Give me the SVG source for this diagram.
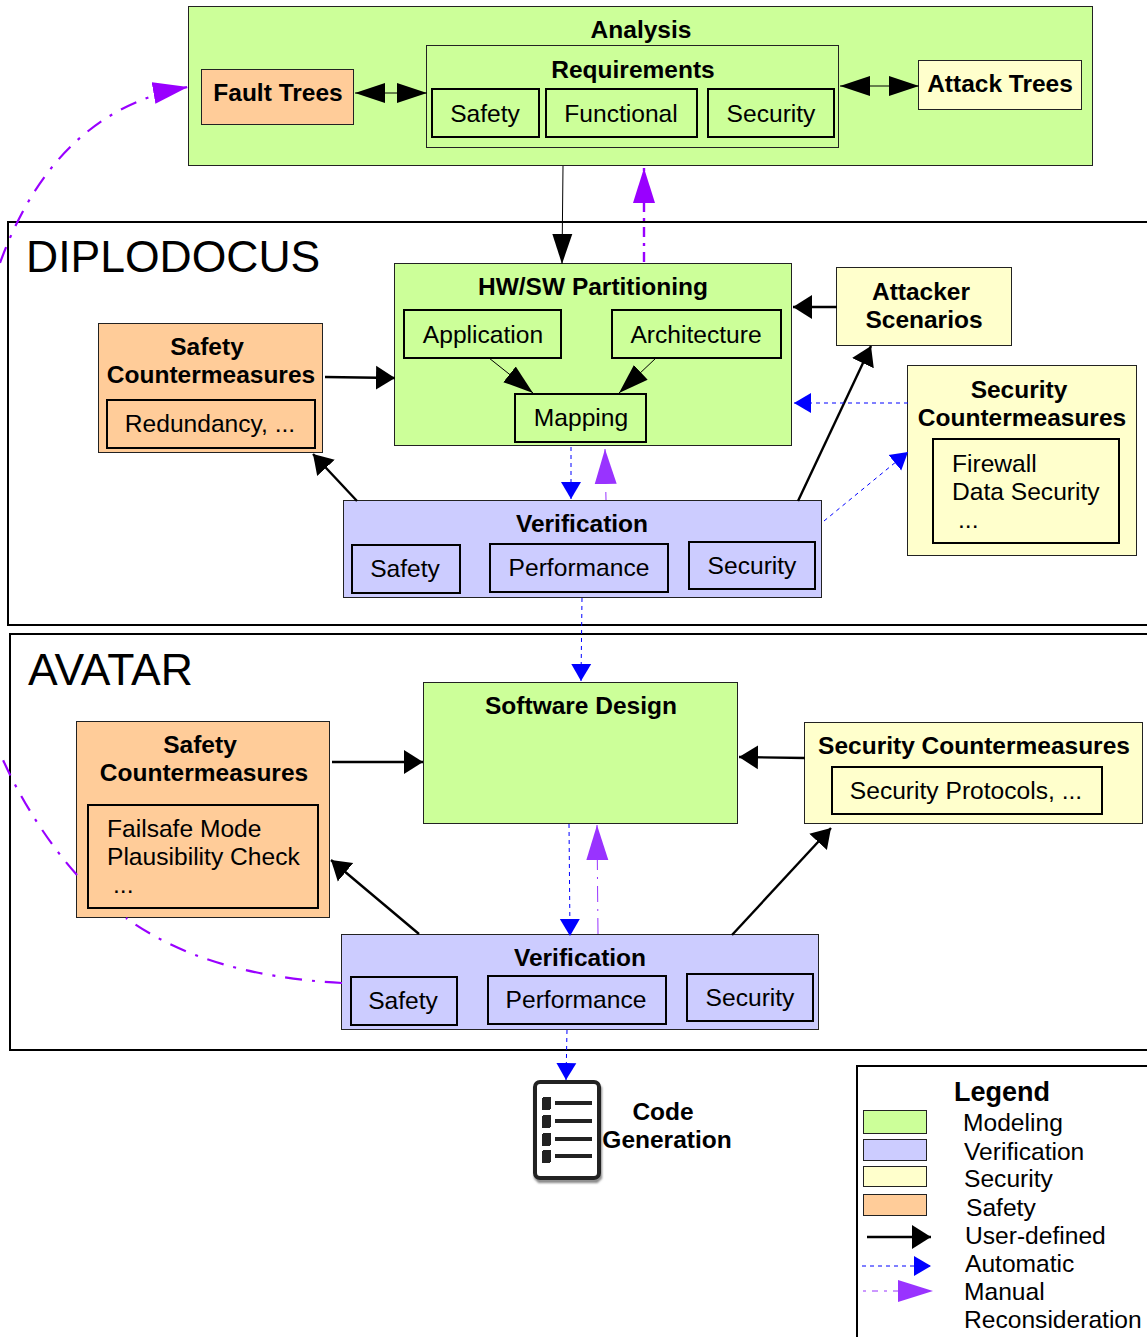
<svg xmlns="http://www.w3.org/2000/svg" width="1147" height="1337" viewBox="0 0 1147 1337">
<style>
text{font-family:"Liberation Sans",Arial,sans-serif;font-size:24.6px;fill:#000}
.b{font-weight:bold;font-size:24.5px}
.m{text-anchor:middle}
.t{font-size:44.5px}
.frame{fill:#fff;stroke:#000;stroke-width:2}
rect{shape-rendering:crispEdges}
.green,.blue,.yellow,.orange,.req{transform:translate(-.5px,-.5px)}
.green{fill:#ccff99;stroke:#222;stroke-width:1}
.blue{fill:#ccccff;stroke:#222;stroke-width:1}
.yellow{fill:#ffffcc;stroke:#222;stroke-width:1}
.orange{fill:#ffcc99;stroke:#222;stroke-width:1}
.req{fill:none;stroke:#222;stroke-width:1}
.in{fill:none;stroke:#000;stroke-width:2}
.c{fill:none;stroke:#000}
.w1{stroke-width:1}
.w2{stroke-width:2.4}
.auto{fill:none;stroke:#0000ff;stroke-width:1;stroke-dasharray:4 4}
.man{fill:none;stroke:#9933ff;stroke-width:1;stroke-dasharray:16 7 2 7}
.cur{fill:none;stroke:#9900ff;stroke-width:2.2;stroke-dasharray:17 10 3 10}
</style>
<defs>
<marker id="k" markerUnits="userSpaceOnUse" markerWidth="30" markerHeight="22" refX="30" refY="11" orient="auto-start-reverse"><path d="M0 1L30 11L0 21Z" fill="#000"/></marker>
<marker id="s" markerUnits="userSpaceOnUse" markerWidth="20" markerHeight="26" refX="19" refY="13" orient="auto"><path d="M0 1L19 13L0 25Z" fill="#000"/></marker>
<marker id="a" markerUnits="userSpaceOnUse" markerWidth="18" markerHeight="22" refX="17" refY="11" orient="auto"><path d="M0 1L17 11L0 21Z" fill="#0000ff"/></marker>
<marker id="p" markerUnits="userSpaceOnUse" markerWidth="36" markerHeight="24" refX="35" refY="12" orient="auto"><path d="M0 1L35 12L0 23Z" fill="#9933ff"/></marker>
<marker id="q" markerUnits="userSpaceOnUse" markerWidth="36" markerHeight="24" refX="35" refY="12" orient="auto"><path d="M0 1L35 12L0 23Z" fill="#9900ff"/></marker>
<filter id="sh" x="-20%" y="-20%" width="140%" height="140%"><feGaussianBlur stdDeviation="1.2"/></filter>
</defs>

<g id="diplodocus"><rect class="frame" x="8" y="222" width="1160" height="403"/><text class="t" x="26" y="272">DIPLODOCUS</text></g>
<g id="avatar"><rect class="frame" x="10" y="634" width="1160" height="416"/><text class="t" x="28" y="685">AVATAR</text></g>

<g id="analysis">
<rect class="green" x="189" y="7" width="904" height="159"/>
<text class="b m" x="641" y="38">Analysis</text>
</g>
<g id="fault-trees"><rect class="orange" x="202" y="70" width="152" height="55"/><text class="b m" x="278" y="101">Fault Trees</text></g>
<g id="requirements">
<rect class="req" x="427" y="46" width="412" height="102"/>
<text class="b m" x="633" y="78">Requirements</text>
<rect class="in" x="432" y="89" width="107" height="48"/><text class="m" x="485" y="122">Safety</text>
<rect class="in" x="546" y="89" width="151" height="48"/><text class="m" x="621" y="122">Functional</text>
<rect class="in" x="708" y="89" width="126" height="48"/><text class="m" x="771" y="122">Security</text>
</g>
<g id="attack-trees"><rect class="yellow" x="919" y="61" width="163" height="49"/><text class="b m" x="1000" y="92">Attack Trees</text></g>

<g id="hwsw">
<rect class="green" x="395" y="264" width="397" height="182"/>
<text class="b m" x="593" y="295">HW/SW Partitioning</text>
<rect class="in" x="404" y="310" width="157" height="48"/><text class="m" x="483" y="343">Application</text>
<rect class="in" x="612" y="310" width="169" height="48"/><text class="m" x="696" y="343">Architecture</text>
<rect class="in" x="515" y="394" width="131" height="48"/><text class="m" x="581" y="426">Mapping</text>
</g>
<g id="attacker"><rect class="yellow" x="837" y="268" width="175" height="78"/><text class="b m" x="921" y="300">Attacker</text><text class="b m" x="924" y="328">Scenarios</text></g>
<g id="sec-cm-1">
<rect class="yellow" x="908" y="366" width="229" height="190"/>
<text class="b m" x="1019" y="398">Security</text><text class="b m" x="1022" y="426">Countermeasures</text>
<rect class="in" x="933" y="439" width="186" height="104"/>
<text x="952" y="472">Firewall</text><text x="952" y="500">Data Security</text><text x="958" y="528">...</text>
</g>
<g id="safety-cm-1">
<rect class="orange" x="99" y="324" width="224" height="129"/>
<text class="b m" x="207" y="355">Safety</text><text class="b m" x="211" y="383">Countermeasures</text>
<rect class="in" x="107" y="400" width="208" height="48"/><text class="m" x="210" y="432">Redundancy, ...</text>
</g>
<g id="verification-1">
<rect class="blue" x="344" y="501" width="478" height="97"/>
<text class="b m" x="582" y="532">Verification</text>
<rect class="in" x="352" y="545" width="108" height="48"/><text class="m" x="405" y="577">Safety</text>
<rect class="in" x="490" y="544" width="178" height="48"/><text class="m" x="579" y="576">Performance</text>
<rect class="in" x="689" y="542" width="126" height="47"/><text class="m" x="752" y="574">Security</text>
</g>

<g id="software-design"><rect class="green" x="424" y="683" width="314" height="141"/><text class="b m" x="581" y="714">Software Design</text></g>
<g id="sec-cm-2">
<rect class="yellow" x="805" y="723" width="338" height="101"/>
<text class="b m" x="974" y="754">Security Countermeasures</text>
<rect class="in" x="832" y="767" width="270" height="47"/><text class="m" x="966" y="799">Security Protocols, ...</text>
</g>
<g id="safety-cm-2">
<rect class="orange" x="77" y="722" width="253" height="196"/>
<text class="b m" x="200" y="753">Safety</text><text class="b m" x="204" y="781">Countermeasures</text>
<rect class="in" x="88" y="805" width="230" height="103"/>
<text x="107" y="837">Failsafe Mode</text><text x="107" y="865">Plausibility Check</text><text x="113" y="893">...</text>
</g>
<g id="verification-2">
<rect class="blue" x="342" y="935" width="477" height="95"/>
<text class="b m" x="580" y="966">Verification</text>
<rect class="in" x="351" y="977" width="106" height="48"/><text class="m" x="403" y="1009">Safety</text>
<rect class="in" x="488" y="976" width="178" height="48"/><text class="m" x="576" y="1008">Performance</text>
<rect class="in" x="687" y="974" width="126" height="47"/><text class="m" x="750" y="1006">Security</text>
</g>

<g id="code-generation">
<rect x="536" y="1085" width="64" height="96" rx="5" fill="none" stroke="#888" stroke-width="4" filter="url(#sh)"/>
<rect x="535" y="1082" width="64" height="96" rx="5" fill="#fff" stroke="#222" stroke-width="4" style="shape-rendering:auto"/>
<g fill="#222">
<rect x="542" y="1097" width="9" height="13" rx="2"/><rect x="555" y="1101" width="37" height="4"/>
<rect x="542" y="1115" width="9" height="13" rx="2"/><rect x="555" y="1119" width="37" height="4"/>
<rect x="542" y="1133" width="9" height="13" rx="2"/><rect x="555" y="1137" width="37" height="4"/>
<rect x="542" y="1150" width="9" height="13" rx="2"/><rect x="555" y="1154" width="37" height="4"/>
</g>
<text class="b m" x="663" y="1120">Code</text><text class="b m" x="667" y="1148">Generation</text>
</g>

<g id="legend">
<rect x="857" y="1066" width="310" height="300" fill="#fff" stroke="#000" stroke-width="2"/>
<text class="m" x="1002" y="1101" font-weight="bold" style="font-size:27px">Legend</text>
<rect class="green" x="864" y="1111" width="63" height="23"/><text x="963" y="1131">Modeling</text>
<rect class="blue" x="864" y="1140" width="63" height="21"/><text x="964" y="1160">Verification</text>
<rect class="yellow" x="864" y="1167" width="63" height="20"/><text x="964" y="1187">Security</text>
<rect class="orange" x="864" y="1195" width="63" height="21"/><text x="966" y="1216">Safety</text>
<text x="965" y="1244">User-defined</text>
<text x="965" y="1272">Automatic</text>
<text x="964" y="1300">Manual</text>
<text x="964" y="1328">Reconsideration</text>
</g>

<g id="connectors">
<path class="c w1" d="M355 93H427" marker-start="url(#k)" marker-end="url(#k)"/>
<path class="c w1" d="M840 86H919" marker-start="url(#k)" marker-end="url(#k)"/>
<path class="c w1" d="M563 166L562 264" marker-end="url(#k)"/>
<path class="c w2" d="M837 307H793" marker-end="url(#s)"/>
<path class="c w2" d="M325 377L395 378" marker-end="url(#s)"/>
<path class="c w2" d="M357 501L313 454" marker-end="url(#s)"/>
<path class="c w2" d="M798 501L871 346" marker-end="url(#s)"/>
<path class="c w1" d="M489 358L533 393" marker-end="url(#k)"/>
<path class="c w1" d="M656 358L619 393" marker-end="url(#k)"/>
<path class="c w2" d="M332 762H423" marker-end="url(#s)"/>
<path class="c w2" d="M805 758L739 757" marker-end="url(#s)"/>
<path class="c w2" d="M419 934L331 860" marker-end="url(#s)"/>
<path class="c w2" d="M732 935L831 828" marker-end="url(#s)"/>
<path class="auto" d="M908 403H794" marker-end="url(#a)"/>
<path class="auto" d="M824 521L908 452" marker-end="url(#a)"/>
<path class="auto" d="M571 447V499" marker-end="url(#a)"/>
<path class="auto" d="M582 598L581 681" marker-end="url(#a)"/>
<path class="auto" d="M569 824L570 936" marker-end="url(#a)"/>
<path class="auto" d="M567 1030L566 1080" marker-end="url(#a)"/>
<path class="man" d="M606 500L605 449" style="stroke-dasharray:8 8" marker-end="url(#p)"/>
<path class="man" d="M598 934L597 825" marker-end="url(#p)"/>
<path class="man" d="M644 262V168" style="stroke-width:2.4;stroke:#9900ff;stroke-dasharray:10 6 3 6" marker-end="url(#q)"/>
<path class="cur" d="M0 263C30 180 85 105 188 87" marker-end="url(#q)"/>
<path class="cur" d="M342 983C250 978 180 957 126 918"/>
<path class="cur" d="M77 875C50 845 20 800 0 753"/>
<path class="c w2" d="M867 1237H931" marker-end="url(#s)"/>
<path class="auto" d="M862 1266H931" marker-end="url(#a)"/>
<path class="man" d="M863 1291H933" style="stroke-dasharray:3 6 6 6" marker-end="url(#p)"/>
</g>
</svg>
